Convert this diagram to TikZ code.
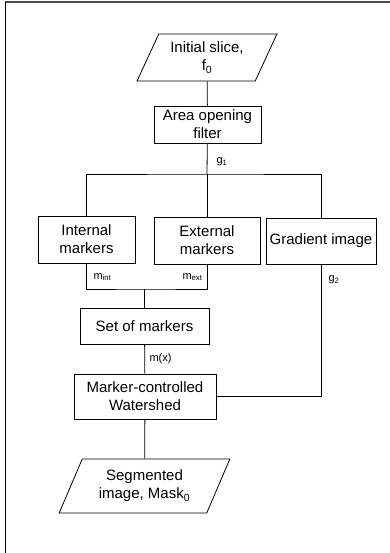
\documentclass[tikz,border=0pt]{standalone}
\usepackage{fontspec}
\setmainfont{Liberation Sans}
\usetikzlibrary{shapes.geometric}

\tikzset{
  stepbox/.style={draw, thick, align=center, inner sep=2pt, font=\fontsize{15}{18}\selectfont},
  iobox/.style={draw, thick, align=center, trapezium, trapezium stretches=true,
    trapezium left angle=63, trapezium right angle=117, inner sep=1pt,
    font=\fontsize{15}{18}\selectfont},
  sig/.style={anchor=west, font=\fontsize{11}{13}\selectfont},
  wire/.style={thick}
}

\begin{document}
\begin{tikzpicture}[x=1pt, y=-1pt]
\useasboundingbox (0,0) rectangle (390,553);
% frame
\draw[gray!60!black, line width=1.3pt] (390,2) -- (5,2);
\draw[line width=1pt] (5,2) -- (5,553);

% blocks
\node[iobox, minimum width=140, minimum height=47] (init) at (207,57.5) {Initial slice,\\ f\textsubscript{0}};
\node[stepbox, minimum width=107, minimum height=37] (aof) at (207.5,124.5) {Area opening\\ filter};
\node[stepbox, minimum width=97, minimum height=47] (intm) at (86.5,239.5) {Internal\\ markers};
\node[stepbox, minimum width=106, minimum height=47] (extm) at (207,240.5) {External\\ markers};
\node[stepbox, minimum width=110, minimum height=46] (grad) at (321,241) {Gradient image};
\node[stepbox, minimum width=129, minimum height=36] (setm) at (144.5,326) {Set of markers};
\node[stepbox, minimum width=142, minimum height=45] (wshed) at (145,396.5) {Marker-controlled\\ Watershed};
\node[iobox, minimum width=171, minimum height=54] (seg) at (144.5,486) {Segmented\\ image, Mask\textsubscript{0}};

% junctions
\coordinate (split) at (207,174);
\coordinate (merge) at (144.5,289);

% connectors
\draw[wire] (init) -- (aof);
\draw[wire] (aof) -- (split);
\draw[wire] (intm.north) |- (split) -| (grad.north);
\draw[wire] (extm) -- (split);
\draw[wire] (intm.south) |- (merge) -| (extm.south);
\draw[wire] (merge) -- (setm);
\draw[wire] (setm) -- (wshed);
\draw[wire] (grad.south) |- (wshed.east);
\draw[wire] (wshed) -- (seg);

% signal names
\node[sig] (lg1) at (213,162) {g\textsubscript{1}};
\node[sig] (lmint) at (90,277) {m\textsubscript{int}};
\node[sig] (lmext) at (179,277) {m\textsubscript{ext}};
\node[sig] (lg2) at (325,280) {g\textsubscript{2}};
\node[sig] (lmx) at (146,359) {m(x)};
\end{tikzpicture}
\end{document}
